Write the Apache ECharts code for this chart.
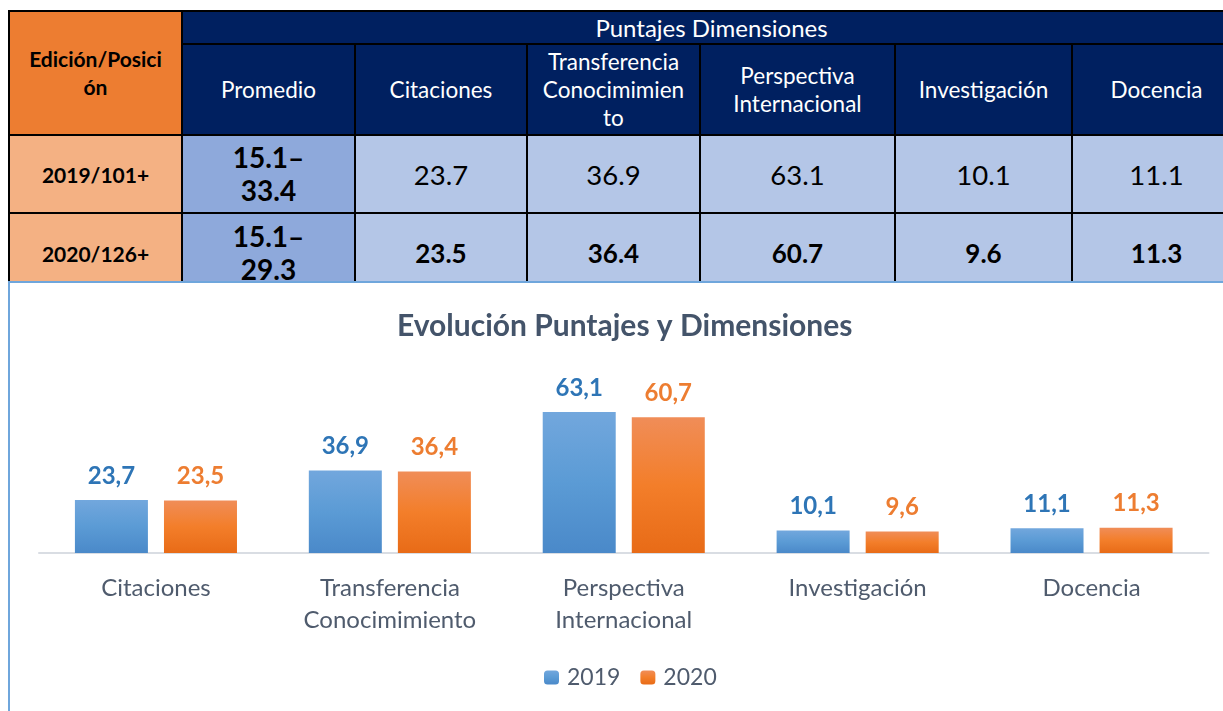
<!DOCTYPE html>
<html>
<head>
<meta charset="utf-8">
<script src="https://cdn.jsdelivr.net/npm/echarts@6/dist/echarts.min.js"></script>
<style>
  html, body {
    margin: 0;
    padding: 0;
    width: 1223px;
    height: 711px;
    overflow: hidden;
    background: #fff;
    font-family: Lato, "Noto Sans", sans-serif;
  }
  #tabla {
    position: absolute;
    left: 8px;
    top: 10px;
    border-collapse: collapse;
    table-layout: fixed;
    width: 1232px;
  }
  #tabla td {
    border: 2.5px solid #000;
    text-align: center;
    vertical-align: middle;
    padding: 0;
    white-space: pre-line;
    overflow: hidden;
  }
  .cab-edicion { background: #ed7d31; color: #000; font-weight: bold; font-size: 21px; line-height: 28px; }
  .cab-azul { background: #002060; color: #fff; font-size: 22.5px; line-height: 28px; }
  .cab-titulo { font-size: 24px; }
  .fila-edicion { background: #f4b183; color: #000; font-weight: bold; font-size: 21px; }
  .promedio { background: #8ea9db; color: #000; font-weight: bold; font-size: 28px; line-height: 33px; }
  .valor { background: #b4c6e7; color: #000; font-size: 27.5px; }
  .valor.negrita { font-weight: bold; font-size: 26px; }
  #chart {
    position: absolute;
    left: 8px;
    top: 281px;
    width: 1213px;
    height: 428px;
    border-top: 2px solid #6fa6dc;
    border-left: 2px solid #6fa6dc;
    background: #fff;
  }
</style>
</head>
<body>
<table id="tabla">
  <colgroup>
    <col style="width:173px"><col style="width:173px"><col style="width:172px"><col style="width:173px">
    <col style="width:195px"><col style="width:177px"><col style="width:169px">
  </colgroup>
  <tbody id="tabla-cuerpo"></tbody>
</table>
<div id="chart"></div>

<script>
// datos
const ediciones = ["2019/101+", "2020/126+"];
const promedios = ["15.1–\n33.4", "15.1–\n29.3"];
const encabezadosTabla = [
  "Promedio",
  "Citaciones",
  "Transferencia\nConocimimien\nto",
  "Perspectiva\nInternacional",
  "Investigación",
  "Docencia",
];
const categorias = [
  "Citaciones",
  "Transferencia\nConocimimiento",
  "Perspectiva\nInternacional",
  "Investigación",
  "Docencia",
];
const series = ["2019", "2020"];
const valores2019 = [23.7, 36.9, 63.1, 10.1, 11.1];
const valores2020 = [23.5, 36.4, 60.7, 9.6, 11.3];

// tabla de arriba
const cuerpo = document.getElementById("tabla-cuerpo");
let html = "";
html += '<tr style="height:33px"><td class="cab-edicion" rowspan="2">Edición/Posici\nón</td>';
html += '<td class="cab-azul cab-titulo" colspan="6">Puntajes Dimensiones</td></tr>';
html += '<tr style="height:91px">';
encabezadosTabla.forEach((t) => {
  html += '<td class="cab-azul">' + t + "</td>";
});
html += "</tr>";
[valores2019, valores2020].forEach((vals, i) => {
  html += '<tr style="height:' + (i == 0 ? 78 : 80) + 'px">';
  html += '<td class="fila-edicion">' + ediciones[i] + "</td>";
  html += '<td class="promedio">' + promedios[i] + "</td>";
  vals.forEach((v) => {
    html += '<td class="valor' + (i == 1 ? " negrita" : "") + '">' + v.toFixed(1) + "</td>";
  });
  html += "</tr>";
});
cuerpo.innerHTML = html;

// grafico
const colorTexto = "#4f5b6d";
const coma = (p) => p.value.toFixed(1).replace(".", ",");

function degradado(arriba, medio, abajo) {
  return new echarts.graphic.LinearGradient(0, 0, 0, 1, [
    { offset: 0, color: arriba },
    { offset: 0.5, color: medio },
    { offset: 1, color: abajo },
  ]);
}

const chart = echarts.init(document.getElementById("chart"));

const option = {
  animation: false,
  title: {
    text: "Evolución Puntajes y Dimensiones",
    left: 382,
    top: 23,
    textStyle: { fontFamily: "Lato", fontSize: 30, fontWeight: "bold", color: "#44546a" },
  },
  legend: {
    data: series,
    top: 378,
    left: 529,
    itemWidth: 15,
    itemHeight: 14,
    itemGap: 20,
    textStyle: { fontFamily: "Lato", fontSize: 23, color: colorTexto, padding: [0, 0, 0, 3] },
  },
  grid: { left: 29, right: 14.5, top: 113.5, bottom: 158 },
  xAxis: {
    type: "category",
    data: categorias,
    axisLine: { lineStyle: { color: "#d9dde3", width: 2 } },
    axisTick: { show: false },
    axisLabel: {
      fontFamily: "Lato",
      fontSize: 24,
      color: colorTexto,
      lineHeight: 32,
      margin: 19,
      interval: 0,
    },
  },
  yAxis: {
    type: "value",
    min: 0,
    max: 70,
    show: false,
    splitLine: { show: false },
  },
  series: [
    {
      name: series[0],
      type: "bar",
      data: valores2019,
      barWidth: 73,
      barGap: "22%",
      itemStyle: { color: degradado("#72a7dd", "#5b9bd5", "#4a89c9") },
      label: {
        show: true,
        position: "top",
        distance: 12,
        formatter: coma,
        fontFamily: "Lato",
        fontSize: 24,
        fontWeight: "bold",
        color: "#2e75b6",
      },
    },
    {
      name: series[1],
      type: "bar",
      data: valores2020,
      barWidth: 73,
      barGap: "22%",
      itemStyle: { color: degradado("#f08d58", "#f37e2a", "#e86b17") },
      label: {
        show: true,
        position: "top",
        distance: 12,
        formatter: coma,
        fontFamily: "Lato",
        fontSize: 24,
        fontWeight: "bold",
        color: "#ed7d31",
      },
    },
  ],
};

chart.setOption(option);
</script>
</body>
</html>
